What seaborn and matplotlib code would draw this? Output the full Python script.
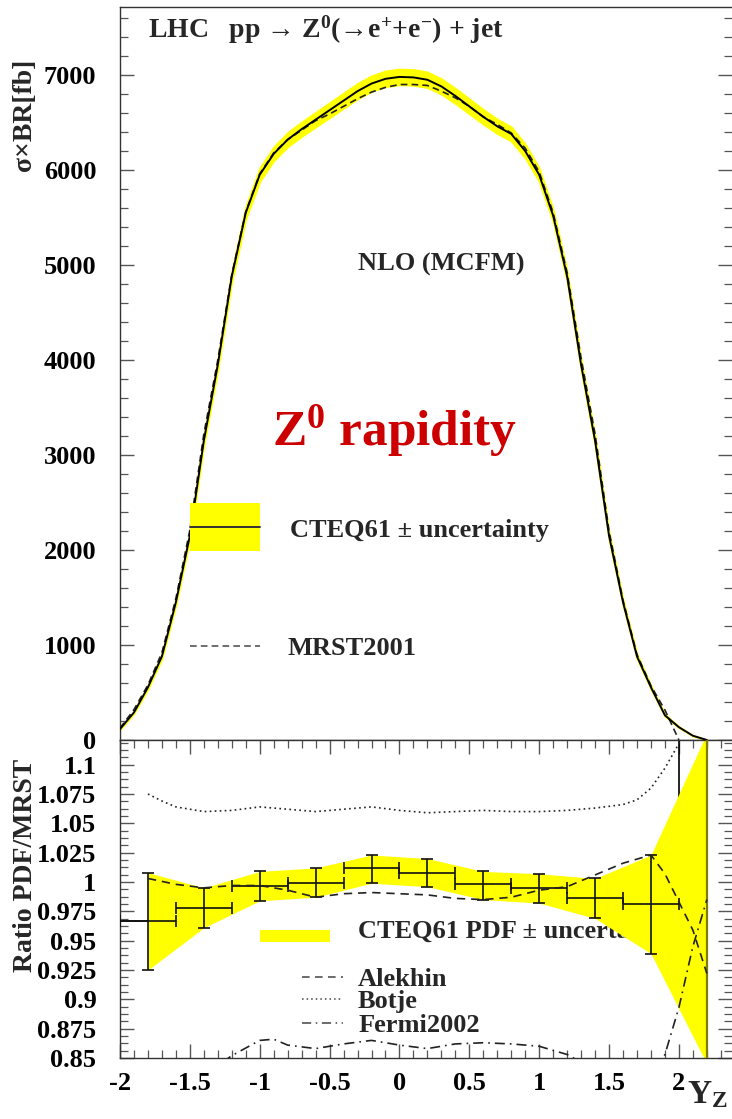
import matplotlib
matplotlib.use("Agg")
import matplotlib.pyplot as plt
from matplotlib.ticker import MultipleLocator, FuncFormatter, FixedLocator
from matplotlib.patches import Rectangle
from matplotlib.lines import Line2D
import pandas as pd
import seaborn as sns

# ---------------- data: Z0 rapidity distribution (fb) ----------------
rapidity = [-2.0, -1.9, -1.8, -1.7, -1.6, -1.5, -1.4, -1.3, -1.2, -1.1,
            -1.0, -0.9, -0.8, -0.7, -0.6, -0.5, -0.4, -0.3, -0.2, -0.1,
            0.0, 0.1, 0.2, 0.3, 0.4, 0.5, 0.6, 0.7, 0.8, 0.9,
            1.0, 1.1, 1.2, 1.3, 1.4, 1.5, 1.6, 1.7, 1.8, 1.9,
            2.0, 2.1, 2.2]
cteq61_xsec = [115, 290, 555, 880, 1450, 2150, 3150, 3950, 4880, 5550,
               5950, 6170, 6320, 6430, 6530, 6630, 6730, 6830, 6910, 6960,
               6980, 6975, 6950, 6880, 6780, 6670, 6560, 6460, 6380, 6200,
               5950, 5520, 4880, 3950, 3150, 2150, 1450, 880, 555, 260,
               135, 45, 0]
cteq61_unc = [8, 12, 20, 25, 32, 42, 55, 58, 62, 68,
              72, 74, 76, 77, 78, 80, 81, 82, 83, 84,
              84, 84, 83, 82, 81, 80, 78, 77, 76, 74,
              72, 68, 62, 58, 55, 42, 32, 25, 20, 12,
              6, 3, 0]

mrst_rapidity = [-2.0, -1.9, -1.8, -1.7, -1.6, -1.5, -1.4, -1.3, -1.2, -1.1,
                 -1.0, -0.9, -0.8, -0.7, -0.6, -0.5, -0.4, -0.3, -0.2, -0.1,
                 0.0, 0.1, 0.2, 0.3, 0.4, 0.5, 0.6, 0.7, 0.8, 0.9,
                 1.0, 1.1, 1.2, 1.3, 1.4, 1.5, 1.6, 1.7, 1.8, 1.9, 2.0]
mrst2001_xsec = [125, 320, 580, 920, 1490, 2210, 3220, 4000, 4900, 5560,
                 5960, 6180, 6320, 6420, 6520, 6590, 6670, 6750, 6820, 6870,
                 6900, 6900, 6890, 6830, 6760, 6670, 6560, 6480, 6390, 6230,
                 5980, 5550, 4920, 4020, 3220, 2200, 1470, 900, 570, 316, 0]

# ---------------- data: ratio PDF / MRST ----------------
bin_edges = [-2.0, -1.6, -1.2, -0.8, -0.4, 0.0, 0.4, 0.8, 1.2, 1.6, 2.0, 2.4]
bin_centers = [-1.8, -1.4, -1.0, -0.6, -0.2, 0.2, 0.6, 1.0, 1.4, 1.8]
ratio_cteq61 = [0.967, 0.978, 0.997, 0.999, 1.012, 1.008, 0.998, 0.995, 0.986, 0.981]
ratio_overflow = 1.6
ratio_upper = [1.008, 0.995, 1.009, 1.012, 1.023, 1.020, 1.009, 1.007, 1.003, 1.023]
ratio_lower = [0.925, 0.961, 0.984, 0.987, 0.999, 0.996, 0.985, 0.982, 0.969, 0.939]
band_tail_x = 2.2
band_tail_upper = 1.127
band_tail_lower = 0.845

alekhin_x = [-1.8, -1.6, -1.4, -1.2, -1.0, -0.8, -0.6, -0.4, -0.2, 0.0, 0.2,
             0.4, 0.6, 0.8, 1.0, 1.2, 1.4, 1.6, 1.8, 1.9, 2.0, 2.1, 2.2]
alekhin_ratio = [1.003, 0.998, 0.995, 0.997, 0.997, 0.993, 0.987, 0.990, 0.991,
                 0.990, 0.989, 0.986, 0.985, 0.987, 0.993, 0.996, 1.006, 1.016,
                 1.023, 1.007, 0.983, 0.959, 0.922]

botje_x = [-1.8, -1.7, -1.6, -1.4, -1.2, -1.0, -0.8, -0.6, -0.4, -0.2, 0.0, 0.2,
           0.4, 0.6, 0.8, 1.0, 1.2, 1.4, 1.6, 1.7, 1.8, 1.9, 2.0, 2.03]
botje_ratio = [1.075, 1.069, 1.064, 1.060, 1.061, 1.064, 1.062, 1.060, 1.062,
               1.064, 1.061, 1.059, 1.060, 1.061, 1.060, 1.060, 1.061, 1.063,
               1.066, 1.070, 1.080, 1.097, 1.118, 1.128]

fermi_x = [-1.8, -1.6, -1.4, -1.2, -1.0, -0.9, -0.8, -0.6, -0.4, -0.2, 0.0, 0.2,
           0.4, 0.6, 0.8, 1.0, 1.2, 1.4, 1.6, 1.8, 1.9, 2.0, 2.1, 2.2]
fermi_ratio = [0.790, 0.810, 0.835, 0.852, 0.865, 0.866, 0.861, 0.858, 0.862,
               0.865, 0.861, 0.858, 0.862, 0.863, 0.862, 0.860, 0.853, 0.840,
               0.830, 0.835, 0.853, 0.893, 0.945, 0.985]

y_ticks_top = [0, 1000, 2000, 3000, 4000, 5000, 6000, 7000]
y_ticks_ratio = [0.85, 0.875, 0.9, 0.925, 0.95, 0.975, 1.0, 1.025, 1.05, 1.075, 1.1]
x_ticks = [-2, -1.5, -1, -0.5, 0, 0.5, 1, 1.5, 2]

# ---------------- style ----------------
sns.set_theme(style="ticks")
SERIF = ["Liberation Serif", "DejaVu Serif"]
plt.rcParams["font.family"] = SERIF
plt.rcParams["font.weight"] = "bold"
plt.rcParams["mathtext.fontset"] = "custom"
plt.rcParams["mathtext.rm"] = "Liberation Serif:bold"
plt.rcParams["mathtext.it"] = "Liberation Serif:italic:bold"
plt.rcParams["mathtext.bf"] = "Liberation Serif:bold"
plt.rcParams["mathtext.default"] = "rm"

YELLOW = "#ffff00"
TICK_FS = 19
fmt = FuncFormatter(lambda v, p: f"{v:g}")

fig = plt.figure(figsize=(7.32, 11.19), dpi=100)
ax_top = fig.add_axes([120 / 732, 1 - 740 / 1119, 612 / 732, 733 / 1119])
ax_bot = fig.add_axes([120 / 732, 1 - 1058 / 1119, 612 / 732, 318 / 1119], sharex=ax_top)

for ax in (ax_top, ax_bot):
    ax.set_facecolor("white")
    for s in ("left", "top", "bottom"):
        ax.spines[s].set_color("#333333")
        ax.spines[s].set_linewidth(1.0)
    ax.spines["right"].set_visible(False)

# ---------------- top panel ----------------
top_df = pd.DataFrame({"y": rapidity, "xsec": cteq61_xsec, "unc": cteq61_unc})
mrst_df = pd.DataFrame({"y": mrst_rapidity, "xsec": mrst2001_xsec})

ax_top.fill_between(top_df["y"], top_df["xsec"] - top_df["unc"],
                    top_df["xsec"] + top_df["unc"], color=YELLOW, lw=1.2,
                    edgecolor=YELLOW, zorder=2)
sns.lineplot(data=mrst_df, x="y", y="xsec", ax=ax_top, color="#222222",
             lw=1.2, linestyle=(0, (4, 2.5)), estimator=None, sort=False, zorder=3)
sns.lineplot(data=top_df, x="y", y="xsec", ax=ax_top, color="black",
             lw=1.4, estimator=None, sort=False, zorder=4)

ax_top.set_xlim(-2.0, 2.38)
ax_top.set_ylim(0, 7716)
ax_top.yaxis.set_major_locator(FixedLocator(y_ticks_top))
ax_top.yaxis.set_minor_locator(MultipleLocator(200))
ax_top.yaxis.set_major_formatter(fmt)
ax_top.tick_params(axis="y", which="both", direction="in", left=True, right=True,
                   labelsize=TICK_FS, pad=17, colors="#555555", labelcolor="black")
ax_top.tick_params(axis="y", which="major", length=10, width=1.0)
ax_top.tick_params(axis="y", which="minor", length=5.5, width=0.9)
ax_top.tick_params(axis="x", which="both", bottom=False, top=False, labelbottom=False)
ax_top.set_xlabel("")
ax_top.set_ylabel("")
for lab in ax_top.get_yticklabels():
    lab.set_fontweight("bold")

ax_top.text(0.0458, 0.958,
            "LHC   pp → Z$^{0}$(→e$^{+}$+e$^{-}$) + jet",
            transform=ax_top.transAxes, fontsize=20, fontweight="bold",
            ha="left", va="baseline")
ax_top.text(0.389, 0.641, "NLO (MCFM)", transform=ax_top.transAxes,
            fontsize=19, fontweight="bold", ha="left", va="baseline")
ax_top.text(0.248, 0.402, r"Z$^{0}$ rapidity", transform=ax_top.transAxes,
            fontsize=37, fontweight="bold", color="#cc0000",
            ha="left", va="baseline")

# legend of the top panel
ax_top.add_patch(Rectangle((0.114, 0.258), 0.115, 0.065, transform=ax_top.transAxes,
                           facecolor=YELLOW, edgecolor="none", zorder=5))
ax_top.add_line(Line2D([0.114, 0.229], [0.291, 0.291], transform=ax_top.transAxes,
                       color="#333333", lw=1.4, zorder=6))
ax_top.text(0.278, 0.277, "CTEQ61 ± uncertainty", transform=ax_top.transAxes,
            fontsize=19, fontweight="bold", ha="left", va="baseline")
ax_top.add_line(Line2D([0.114, 0.229], [0.128, 0.128], transform=ax_top.transAxes,
                       color="#555555", lw=1.2, linestyle=(0, (4, 2.5))))
ax_top.text(0.273, 0.116, "MRST2001", transform=ax_top.transAxes,
            fontsize=19, fontweight="bold", ha="left", va="baseline")

# ---------------- ratio panel ----------------
ax_bot.stairs(ratio_cteq61 + [ratio_overflow], bin_edges, color="black",
              lw=1.2, zorder=1, baseline=None)

# legend text of the band sits beneath the band
ax_bot.add_patch(Rectangle((0.229, 0.365), 0.114, 0.0375, transform=ax_bot.transAxes,
                           facecolor=YELLOW, edgecolor="none", zorder=1))
ax_bot.text(0.389, 0.377, "CTEQ61 PDF ± uncertainty", transform=ax_bot.transAxes,
            fontsize=19, fontweight="bold", ha="left", va="baseline", zorder=1)

band_x = bin_centers + [band_tail_x]
band_hi = ratio_upper + [band_tail_upper]
band_lo = ratio_lower + [band_tail_lower]
ax_bot.fill_between(band_x, band_lo, band_hi, color=YELLOW, lw=0, zorder=2)
ax_bot.vlines(band_tail_x, band_tail_lower, band_tail_upper, color="#7d7d00",
              lw=1.6, zorder=3)

yerr = [[c - l for c, l in zip(ratio_cteq61, ratio_lower)],
        [u - c for c, u in zip(ratio_cteq61, ratio_upper)]]
ax_bot.errorbar(bin_centers, ratio_cteq61, yerr=yerr, xerr=0.2, fmt="none",
                ecolor="#111111", elinewidth=1.2, capsize=4.5, capthick=1.2, zorder=4)

curves = pd.concat([
    pd.DataFrame({"y": alekhin_x, "r": alekhin_ratio, "set": "Alekhin"}),
    pd.DataFrame({"y": botje_x, "r": botje_ratio, "set": "Botje"}),
    pd.DataFrame({"y": fermi_x, "r": fermi_ratio, "set": "Fermi2002"}),
])
styles = {"Alekhin": (0, (5, 3.5)), "Botje": (0, (1, 2)), "Fermi2002": (0, (6, 3, 1, 3))}
for name, grp in curves.groupby("set", sort=False):
    sns.lineplot(data=grp, x="y", y="r", ax=ax_bot, color="#222222", lw=1.2,
                 linestyle=styles[name], estimator=None, sort=False, zorder=5)

ax_bot.set_ylim(0.85, 1.121)
ax_bot.yaxis.set_major_locator(FixedLocator(y_ticks_ratio))
ax_bot.yaxis.set_minor_locator(MultipleLocator(0.00625))
ax_bot.yaxis.set_major_formatter(fmt)
ax_bot.xaxis.set_major_locator(FixedLocator(x_ticks))
ax_bot.xaxis.set_minor_locator(MultipleLocator(0.1))
ax_bot.xaxis.set_major_formatter(fmt)
ax_bot.tick_params(axis="both", which="both", direction="in", colors="#555555",
                   labelcolor="black", labelsize=TICK_FS)
ax_bot.tick_params(axis="y", which="both", left=True, right=True, pad=17)
ax_bot.tick_params(axis="x", which="both", bottom=True, top=True, pad=10)
ax_bot.tick_params(which="major", length=10, width=1.0)
ax_bot.tick_params(which="minor", length=5.5, width=0.9)
ax_bot.set_xlabel("")
ax_bot.set_ylabel("")
for lab in ax_bot.get_yticklabels() + ax_bot.get_xticklabels():
    lab.set_fontweight("bold")

legend_rows = [("Alekhin", 0.255, 0.226), ("Botje", 0.1855, 0.157),
               ("Fermi2002", 0.110, 0.082)]
for name, ly, ty in legend_rows:
    ax_bot.add_line(Line2D([0.297, 0.364], [ly, ly], transform=ax_bot.transAxes,
                           color="#444444", lw=1.1, linestyle=styles[name]))
    ax_bot.text(0.389, ty, name, transform=ax_bot.transAxes, fontsize=19,
                fontweight="bold", ha="left", va="baseline")

# axis titles
fig.text(0.034, 0.897, "σ×BR[fb]", rotation=90, fontsize=20, fontweight="bold",
         ha="center", va="center")
fig.text(0.035, 0.227, "Ratio PDF/MRST", rotation=90, fontsize=20,
         fontweight="bold", ha="center", va="center")
fig.text(0.938, 0.014, r"Y$_{\mathrm{Z}}$", fontsize=24, fontweight="bold",
         ha="left", va="baseline")

fig.savefig("out.png", dpi=100, facecolor="white")
